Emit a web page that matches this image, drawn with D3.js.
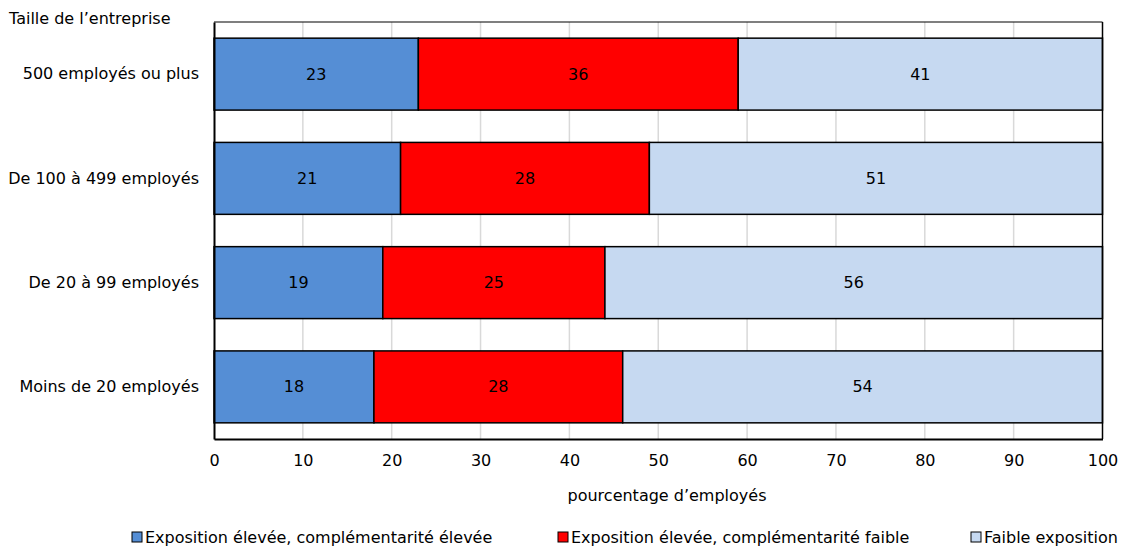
<!DOCTYPE html>
<html><head><meta charset="utf-8">
<script src="https://cdn.jsdelivr.net/npm/d3@7"></script>
<style>body{margin:0;background:#fff}text{font-family:"DejaVu Sans",Verdana,sans-serif}</style>
</head><body><svg id="c" width="1122" height="548"></svg>
<script>
const categories = ["500 employés ou plus","De 100 à 499 employés","De 20 à 99 employés","Moins de 20 employés"];
const seriesNames = ["Exposition élevée, complémentarité élevée","Exposition élevée, complémentarité faible","Faible exposition"];
const highHigh = [23,21,19,18];
const highLow = [36,28,25,28];
const low = [41,51,56,54];
const ticks = [0,10,20,30,40,50,60,70,80,90,100];
const colors = ["#558ED5","#FF0000","#C6D9F1"];

const svg = d3.select("#c");
const m = {l:214, r:1102.5, t:22, b:439};
const x = d3.scaleLinear().domain([0,100]).range([m.l,m.r]);
const y = d3.scaleBand().domain(categories).range([m.t,m.b]).paddingInner(0.31).paddingOuter(0.155);
const fs = 16;

// gridlines
svg.append("g").selectAll("line").data(ticks.slice(1,-1)).join("line")
  .attr("x1",d=>x(d)).attr("x2",d=>x(d)).attr("y1",m.t).attr("y2",m.b)
  .attr("stroke","#d9d9d9").attr("stroke-width",1.5);

const series = [highHigh, highLow, low];
const rows = categories.map((c,i)=>{let acc=0;return series.map((s,j)=>{const r={c,j,v:s[i],x0:acc,x1:acc+s[i]};acc+=s[i];return r;});}).flat();

svg.append("g").selectAll("rect").data(rows).join("rect")
  .attr("x",d=>x(d.x0)).attr("width",d=>x(d.x1)-x(d.x0))
  .attr("y",d=>y(d.c)).attr("height",y.bandwidth())
  .attr("fill",d=>colors[d.j]).attr("stroke","#000").attr("stroke-width",1.5);

svg.append("g").selectAll("text").data(rows).join("text")
  .attr("x",d=>x((d.x0+d.x1)/2)).attr("y",d=>y(d.c)+y.bandwidth()/2)
  .attr("dy","0.35em").attr("text-anchor","middle").attr("font-size",fs).attr("fill","#000")
  .text(d=>d.v);

// frame
svg.append("line").attr("x1",m.l).attr("x2",m.r).attr("y1",m.t).attr("y2",m.t).attr("stroke","#000").attr("stroke-width",1.2);
svg.append("line").attr("x1",m.r).attr("x2",m.r).attr("y1",m.t).attr("y2",m.b).attr("stroke","#000").attr("stroke-width",1.5);

// axes
const xa = svg.append("g").attr("transform",`translate(0,${m.b})`)
  .call(d3.axisBottom(x).tickValues(ticks).tickSize(0).tickPadding(16));
xa.select(".domain").attr("stroke","#000").attr("stroke-width",2);
xa.selectAll("text").attr("font-size",fs).attr("font-family","DejaVu Sans").attr("fill","#000");

const ya = svg.append("g").attr("transform",`translate(${m.l},0)`)
  .call(d3.axisLeft(y).tickSize(0).tickPadding(15));
ya.select(".domain").attr("stroke","#000").attr("stroke-width",2);
ya.selectAll("text").attr("font-size",fs).attr("font-family","DejaVu Sans").attr("fill","#000");

svg.append("text").attr("x",9).attr("y",24).attr("font-size",fs).text("Taille de l’entreprise");
svg.append("text").attr("x",667).attr("y",501).attr("text-anchor","middle").attr("font-size",fs).text("pourcentage d’employés");

// legend
const legX = [132,558,971];
const lg = svg.append("g").selectAll("g").data(seriesNames).join("g")
  .attr("transform",(d,i)=>`translate(${legX[i]},532)`);
lg.append("rect").attr("width",10).attr("height",10).attr("fill",(d,i)=>colors[i]).attr("stroke","#000").attr("stroke-width",1);
lg.append("text").attr("x",13).attr("y",5).attr("dy","0.35em").attr("font-size",fs).text(d=>d);
</script></body></html>
